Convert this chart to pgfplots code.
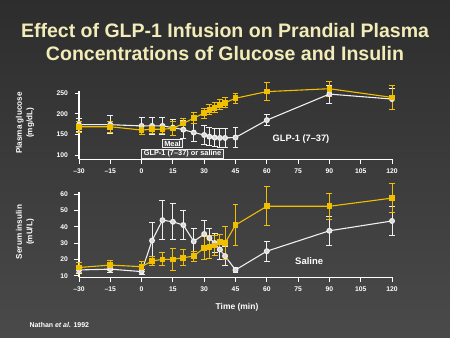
\documentclass[border=0pt]{standalone}
\usepackage{pgfplots}
\pgfplotsset{compat=1.18}
\usepackage{fontspec}
\setmainfont{Liberation Sans}
\definecolor{bgtop}{HTML}{2D2D2D}
\definecolor{bgbot}{HTML}{4A4A4A}
\definecolor{gold}{HTML}{F0C000}
\definecolor{titlecol}{HTML}{F2ECB8}
\definecolor{wser}{HTML}{F0F0F0}
\definecolor{boxbg}{HTML}{454545}

\pgfplotstableread{
t v e
-30 174 16
-15 174 22
0 171 20
5 171 20
10 171 20
15 167 20
20 162 22
25 155 22
30 149 22
32.5 145 22
35 143 22
37.5 142 22
40 142 22
45 143 25
60 185 14
90 248 22
120 236 25
}\gluW
\pgfplotstableread{
t v e
-30 169 13
-15 169 13
0 161 10
5 163 10
10 163 10
15 165 16
20 177 13
25 190 14
30 202 12
32.5 210 12
35 215 12
37.5 222 12
40 227 12
45 238 12
60 254 22
90 261 18
120 240 30
}\gluY
\pgfplotstableread{
t v e
-30 13.5 2
-15 14 2
0 12.5 1.5
5 31.5 11
10 44 12
15 43 11
20 41 9
25 31 8
30 35.5 8.5
32.5 33 6
35 30 6
37.5 26 6
40 22 6
45 13.5 1.5
60 25 6
90 37.5 9
120 43.5 9
}\insW
\pgfplotstableread{
t v e
-30 15 3
-15 16.5 3
0 15.5 3
5 19 2.5
10 20 4
15 20 6.5
20 21 5
25 22 3
30 27 7
32.5 27.5 7
35 28.5 6
37.5 30.5 5
40 30 10
45 41 12.5
60 52.5 12
90 52.5 8
120 57.5 8.7
}\insY

\tikzset{
  annbox/.style={draw=white!85!gray, fill=boxbg, line width=0.6pt, inner xsep=2pt,
    inner ysep=1.2pt, text=white, font=\fontsize{7.4}{8}\selectfont\bfseries},
}
\pgfplotsset{
  myax/.style={
    scale only axis, width=313bp, xmin=-30, xmax=120,
    axis x line*=bottom, axis y line*=left,
    axis line style={white, line width=1.1pt, -},
    tick style={white, line width=0.9pt},
    tick align=outside, major tick length=4.5bp,
    xtick={-30,-15,...,120},
    xticklabels={–30,–15,0,15,30,45,60,75,90,105,120},
    ticklabel style={white, font=\fontsize{6.8}{7}\selectfont\bfseries},
    yticklabel style={xshift=-3bp},
    xticklabel style={yshift=-1.5bp},
    /pgf/number format/assume math mode=true,
    clip=false,
  },
  wplot/.style={wser, line width=1.1pt, mark=*, mark size=2.4pt,
    mark options={solid, fill=wser!80!gray, draw=wser},
    error bars/.cd, y dir=both, y explicit,
    error bar style={line width=0.9pt, wser},
    error mark options={rotate=90, mark size=3pt, line width=0.9pt, wser}},
  yplot/.style={gold, line width=1.1pt, mark=square*, mark size=2.3pt,
    mark options={solid, fill=gold, draw=gold},
    error bars/.cd, y dir=both, y explicit,
    error bar style={line width=0.9pt, gold},
    error mark options={rotate=90, mark size=3pt, line width=0.9pt, gold}},
}

\begin{document}
\begin{tikzpicture}
\shade[top color=bgtop, bottom color=bgbot] (0bp,0bp) rectangle (450bp,-338bp);
\useasboundingbox (0bp,0bp) rectangle (450bp,-338bp);
\node[titlecol, font=\fontsize{19.6}{23}\selectfont\bfseries, align=center] at (225bp,-42bp)
  {Effect of GLP-1 Infusion on Prandial Plasma\\Concentrations of Glucose and Insulin};

\begin{axis}[myax, at={(79bp,-159.4bp)}, anchor=south west, height=68.2bp,
  ymin=90, ymax=255, ytick={100,150,200,250}]
\addplot+[wplot] table[x=t, y=v, y error=e] {\gluW};
\addplot+[yplot] table[x=t, y=v, y error=e] {\gluY};
\node[annbox] at (axis cs:14.8,128.5) {Meal};
\node[annbox] at (axis cs:19.6,104) {GLP-1 (7–37) or saline};
\node[white, font=\fontsize{9.3}{10}\selectfont\bfseries] at (axis cs:76.4,139.6) {GLP-1 (7–37)};
\end{axis}

\begin{axis}[myax, at={(79bp,-277.3bp)}, anchor=south west, height=84.9bp,
  ymin=9, ymax=61, ytick={10,20,...,60}]
\addplot+[wplot] table[x=t, y=v, y error=e] {\insW};
\addplot+[yplot] table[x=t, y=v, y error=e] {\insY};
\node[white, font=\fontsize{9.5}{10}\selectfont\bfseries] at (axis cs:80.3,19.2) {Saline};
\end{axis}

\node[white, rotate=90, align=center, font=\fontsize{8.2}{10.5}\selectfont\bfseries] at (25bp,-123bp)
  {Plasma glucose\\(mg/dL)};
\node[white, rotate=90, align=center, font=\fontsize{8.2}{10.5}\selectfont\bfseries] at (25bp,-232bp)
  {Serum insulin\\(mU/L)};
\node[white, font=\fontsize{8.5}{10}\selectfont\bfseries] at (237bp,-307bp) {Time (min)};
\node[white, font=\fontsize{7}{8}\selectfont\bfseries, anchor=west] at (26bp,-325bp)
  {Nathan \textit{et al.} 1992};
\end{tikzpicture}
\end{document}
